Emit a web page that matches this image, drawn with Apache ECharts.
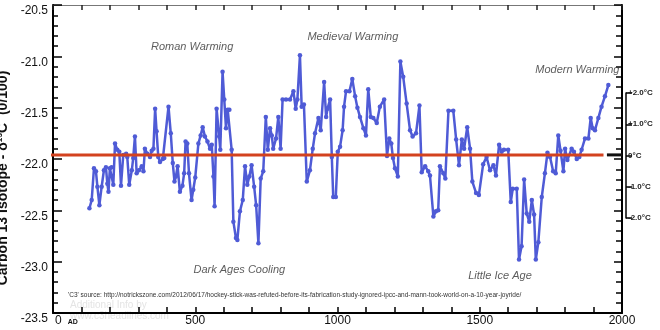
<!DOCTYPE html>
<html>
<head>
<meta charset="utf-8">
<script src="https://cdn.jsdelivr.net/npm/echarts@6/dist/echarts.min.js"></script>
<style>
  html, body { margin: 0; padding: 0; background: #fff; }
  #chart { width: 660px; height: 330px; }
</style>
</head>
<body>
<div id="chart"></div>
<script>
// Carbon 13 isotope record, AD years and δ13C values (0/100)
const years = [
  128, 136, 144, 151, 156, 163, 171, 179, 186, 191, 195, 200, 206, 212, 218, 226, 233, 239, 247, 257,
  261, 268, 277, 282, 288, 294, 302, 312, 318, 323, 332, 341, 347, 353, 359, 364, 370, 376, 386, 391,
  406, 414, 421, 427, 432, 438, 446, 455, 461, 466, 472, 478, 487, 493, 500, 511, 519, 526, 534, 543,
  552, 558, 564, 568, 575, 584, 588, 596, 602, 608, 614, 620, 628, 634, 643, 648, 657, 667, 675, 683,
  690, 698, 707, 714, 722, 730, 739, 748, 755, 763, 769, 774, 784, 792, 800, 807, 819, 833, 845, 853,
  859, 868, 874, 882, 892, 903, 913, 921, 933, 941, 953, 960, 965, 974, 980, 985, 994, 1001, 1009, 1018,
  1023, 1030, 1042, 1052, 1062, 1070, 1079, 1091, 1100, 1108, 1117, 1126, 1138, 1149, 1164, 1174, 1182, 1189, 1195, 1202,
  1212, 1221, 1231, 1243, 1255, 1264, 1276, 1288, 1296, 1308, 1319, 1325, 1337, 1346, 1354, 1360, 1372, 1379, 1390, 1407,
  1417, 1427, 1437, 1445, 1456, 1466, 1474, 1487, 1497, 1512, 1524, 1536, 1548, 1557, 1568, 1577, 1585, 1600, 1609, 1616,
  1630, 1638, 1647, 1656, 1665, 1674, 1683, 1691, 1697, 1706, 1718, 1729, 1738, 1747, 1758, 1767, 1776, 1784, 1794, 1800,
  1808, 1823, 1831, 1841, 1850, 1858, 1870, 1882, 1890, 1897, 1905, 1917, 1928, 1940, 1952
];
const carbon13 = [
  -22.48, -22.40, -22.09, -22.12, -22.27, -22.45, -22.27, -22.11, -22.08, -22.24, -22.32, -22.09, -22.08, -22.25, -21.85, -21.91, -21.93, -22.26, -21.96, -21.95,
  -21.98, -22.25, -22.11, -21.99, -21.78, -22.14, -22.11, -22.07, -22.12, -21.90, -21.95, -21.98, -21.92, -21.90, -21.51, -21.73, -21.98, -22.03, -22.00, -21.99,
  -21.49, -21.75, -22.04, -22.22, -22.17, -22.07, -22.32, -22.26, -22.14, -21.83, -21.85, -22.14, -22.40, -22.30, -22.18, -21.85, -21.77, -21.69, -21.78, -21.83,
  -21.90, -21.86, -22.17, -22.46, -21.51, -21.78, -21.91, -21.15, -21.42, -21.70, -21.52, -21.52, -21.91, -22.61, -22.77, -22.79, -22.51, -22.40, -22.07, -22.25,
  -22.17, -22.06, -22.27, -22.45, -22.82, -22.19, -22.12, -21.59, -21.91, -21.70, -21.77, -21.90, -21.80, -21.59, -21.90, -21.42, -21.42, -21.42, -21.34, -21.51,
  -21.42, -20.99, -21.49, -21.47, -22.22, -22.11, -21.90, -21.75, -21.60, -21.72, -21.25, -21.59, -21.51, -21.42, -21.98, -22.37, -22.37, -21.93, -21.88, -21.72,
  -21.49, -21.34, -21.34, -21.22, -21.39, -21.50, -21.59, -21.70, -21.77, -21.32, -21.59, -21.60, -21.65, -21.49, -21.42, -21.97, -21.80, -21.85, -21.99, -22.09,
  -22.17, -21.05, -21.20, -21.46, -21.72, -21.78, -21.75, -21.48, -22.13, -22.07, -22.12, -22.16, -22.56, -22.51, -22.50, -22.07, -22.14, -22.19, -21.53, -21.53,
  -21.81, -22.06, -21.81, -21.90, -21.69, -21.90, -22.22, -22.33, -22.35, -22.05, -21.98, -22.11, -22.06, -22.16, -21.86, -21.93, -21.91, -21.91, -22.42, -22.29,
  -22.29, -22.98, -22.85, -22.20, -22.53, -22.61, -22.40, -22.54, -22.98, -22.81, -22.37, -22.14, -21.94, -21.98, -22.12, -22.14, -21.77, -21.92, -22.12, -21.90,
  -22.01, -21.90, -21.93, -22.00, -21.98, -21.91, -21.80, -21.80, -21.60, -21.70, -21.72, -21.60, -21.49, -21.39, -21.28
];

// long-term mean (the 0°C reference level)
const baselineValue = -21.96;
const baselineYears = [-38, 1935];
const zeroTickYears = [1947, 2000];

// axis ranges
const yMin = -23.5, yMax = -20.5, yStep = 0.5;
const xMin = 0, xMax = 2000, xStep = 500;
const tempTicks = [-2, -1, 0, 1, 2];

// period annotations: label, year, value
const periodNames  = ['Roman Warming', 'Medieval Warming', 'Modern Warming', 'Dark Ages Cooling', 'Little Ice Age'];
const periodYears  = [489, 1054, 1843, 655, 1571];
const periodValues = [-20.91, -20.81, -21.13, -23.08, -23.14];

const sourceNote = "'C3' source: http://notrickszone.com/2012/06/17/hockey-stick-was-refuted-before-its-fabrication-study-ignored-ipcc-and-mann-took-world-on-a-10-year-joyride/";

const FONT = 'Liberation Sans, Arial, sans-serif';
const lineBlue = '#4f5bd6';
const baseRed = '#d3421f';

const chart = echarts.init(document.getElementById('chart'), null, { renderer: 'canvas' });

const series13 = years.map((y, i) => [y, carbon13[i]]);

// plot box shared by the data grid and the frame grids; keep grids exactly where placed
const box = { left: 53, right: 38, top: 5, bottom: 17, outerBoundsMode: 'none' };

const tick = (len, color) => ({ show: true, inside: true, length: len, lineStyle: { color: color || '#000', width: 1.5 } });
const minor = (len, color) => ({ show: true, splitNumber: 5, length: len, lineStyle: { color: color || '#000', width: 1.5 } });

// grid 0: data (axes provide the scale only)
// grid 1: temperature bracket on the right
// grid 2: top and right frame axes
// grid 3: bottom and left frame axes with labels
const option = {
  animation: false,
  backgroundColor: '#ffffff',
  grid: [
    Object.assign({}, box),
    { left: 620, width: 6, top: 93, height: 125, outerBoundsMode: 'none' },
    Object.assign({}, box),
    Object.assign({}, box)
  ],
  xAxis: [
    { gridIndex: 0, type: 'value', show: false, min: xMin, max: xMax, interval: xStep },
    { gridIndex: 1, type: 'value', show: false, min: 0, max: 1 },
    {
      gridIndex: 2, type: 'value', position: 'top',
      min: xMin, max: xMax, interval: xStep,
      axisLine: { show: true, onZero: false, lineStyle: { color: '#777', width: 1 } },
      axisTick: tick(5, '#222'), minorTick: minor(5, '#222'),
      splitLine: { show: false },
      axisLabel: { show: false }
    },
    {
      gridIndex: 3, type: 'value', position: 'bottom',
      min: xMin, max: xMax, interval: xStep,
      axisLine: { show: true, onZero: false, lineStyle: { color: '#000', width: 2 } },
      axisTick: tick(6), minorTick: minor(6),
      splitLine: { show: false },
      axisLabel: {
        margin: 2, fontFamily: FONT, fontSize: 12, color: '#111',
        alignMinLabel: 'left',
        formatter: v => v === 0 ? '{z|0}{ad|AD}' : String(v),
        rich: {
          z: { fontFamily: FONT, fontSize: 12, color: '#111', padding: [0, 0, 0, 2] },
          ad: { fontFamily: FONT, fontSize: 7, fontWeight: 'bold', color: '#111', padding: [3, 0, 0, 6] }
        }
      }
    }
  ],
  yAxis: [
    { gridIndex: 0, type: 'value', show: false, min: yMin, max: yMax, interval: yStep },
    {
      gridIndex: 1, type: 'value', position: 'right',
      min: tempTicks[0], max: tempTicks[tempTicks.length - 1], interval: 1,
      axisLine: { show: true, onZero: false, lineStyle: { color: '#000', width: 1.5 } },
      axisTick: { show: true, inside: false, length: 6, lineStyle: { color: '#000', width: 1.5 } },
      splitLine: { show: false },
      axisLabel: {
        margin: 2, fontFamily: FONT, fontSize: 8, fontWeight: 'bold', color: '#222',
        formatter: v => v === 0 ? '0°C' : (v > 0 ? '+' : '') + v.toFixed(1) + '°C'
      }
    },
    {
      gridIndex: 2, type: 'value', position: 'right',
      min: yMin, max: yMax, interval: yStep,
      axisLine: { show: true, onZero: false, lineStyle: { color: '#000', width: 2 } },
      axisTick: tick(8), minorTick: minor(6),
      splitLine: { show: false },
      axisLabel: { show: false }
    },
    {
      gridIndex: 3, type: 'value', position: 'left',
      min: yMin, max: yMax, interval: yStep,
      axisLine: { show: true, onZero: false, lineStyle: { color: '#000', width: 2 } },
      axisTick: tick(9), minorTick: minor(5),
      splitLine: { show: false },
      axisLabel: {
        margin: 5, fontFamily: FONT, fontSize: 12, color: '#111',
        verticalAlign: 'top',
        formatter: v => v.toFixed(1)
      },
      name: 'Carbon 13 Isotope - δ¹³C  (0/100)',
      nameLocation: 'middle', nameRotate: 90, nameGap: 42,
      nameTextStyle: { fontFamily: FONT, fontSize: 14, fontWeight: 'bold', color: '#111', padding: [0, 38, 0, 0] }
    }
  ],
  series: [
    {
      name: 'δ13C', type: 'line', xAxisIndex: 0, yAxisIndex: 0,
      data: series13,
      symbol: 'circle', symbolSize: 4.5, showSymbol: true,
      lineStyle: { color: lineBlue, width: 2.5 },
      itemStyle: { color: lineBlue },
      z: 3
    },
    {
      name: 'baseline', type: 'line', xAxisIndex: 0, yAxisIndex: 0,
      data: baselineYears.map(y => [y, baselineValue]),
      symbol: 'none', clip: false,
      lineStyle: { color: baseRed, width: 3 },
      z: 4
    },
    {
      name: 'zero tick', type: 'line', xAxisIndex: 0, yAxisIndex: 0,
      data: zeroTickYears.map(y => [y, baselineValue]),
      symbol: 'none', clip: false,
      lineStyle: { color: '#111', width: 3 },
      z: 4
    },
    {
      name: 'periods', type: 'scatter', xAxisIndex: 0, yAxisIndex: 0,
      data: periodNames.map((n, i) => ({ name: n, value: [periodYears[i], periodValues[i]] })),
      symbolSize: 0, silent: true,
      label: {
        show: true, position: 'inside', formatter: p => p.name,
        fontFamily: FONT, fontSize: 11, fontStyle: 'italic', color: '#333'
      },
      z: 5
    }
  ],
  graphic: [
    {
      type: 'text', left: 68, top: 292,
      style: { text: sourceNote, fontFamily: FONT, fontSize: 6.5, fill: '#333' }
    },
    {
      type: 'text', left: 70, top: 300,
      style: { text: 'Additional Info by\nwww.c3headlines.com', fontFamily: FONT, fontSize: 10, lineHeight: 11, fill: '#e4e4e4' }
    }
  ]
};

chart.setOption(option);
</script>
</body>
</html>
